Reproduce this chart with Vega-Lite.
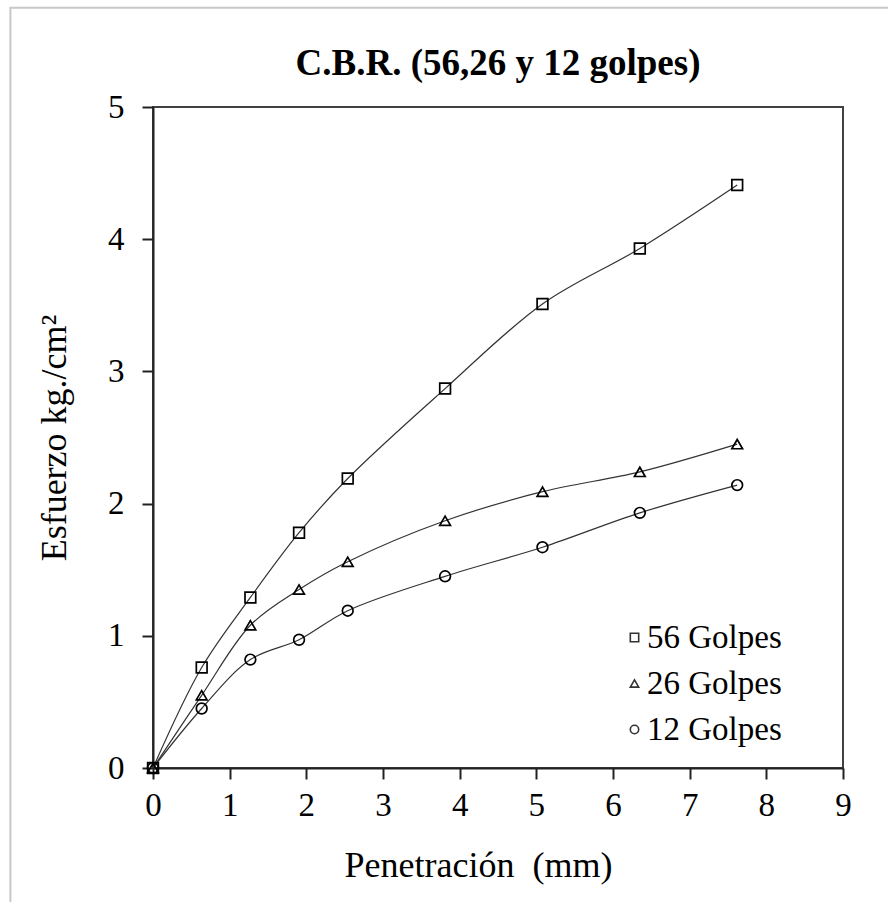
{
  "$schema": "https://vega.github.io/schema/vega-lite/v6.json",
  "width": 690,
  "height": 661,
  "autosize": "none",
  "padding": {"left": 153, "top": 107, "right": 45, "bottom": 134},
  "background": "white",
  "title": {
    "text": "C.B.R. (56,26 y 12 golpes)",
    "font": "Liberation Serif",
    "fontSize": 37,
    "fontWeight": "bold",
    "color": "black",
    "anchor": "middle",
    "frame": "group",
    "offset": -76
  },
  "config": {
    "view": {"stroke": "#404040", "strokeWidth": 2},
    "axis": {
      "labelFont": "Liberation Serif",
      "labelFontSize": 33,
      "labelColor": "black",
      "labelFlush": false,
      "titleFont": "Liberation Serif",
      "titleFontSize": 36,
      "titleFontWeight": "normal",
      "titleColor": "black",
      "domainColor": "#222222",
      "domainWidth": 2,
      "tickColor": "#222222",
      "tickWidth": 2,
      "tickSize": 11,
      "gridColor": "#d0d0d0",
      "gridWidth": 1.5
    }
  },
  "datasets": {
    "cbr": [
      {"serie": "56 Golpes", "pen": 0, "esf": 0},
      {"serie": "56 Golpes", "pen": 0.635, "esf": 0.76},
      {"serie": "56 Golpes", "pen": 1.27, "esf": 1.29},
      {"serie": "56 Golpes", "pen": 1.905, "esf": 1.78},
      {"serie": "56 Golpes", "pen": 2.54, "esf": 2.19},
      {"serie": "56 Golpes", "pen": 3.81, "esf": 2.87},
      {"serie": "56 Golpes", "pen": 5.08, "esf": 3.51},
      {"serie": "56 Golpes", "pen": 6.35, "esf": 3.93},
      {"serie": "56 Golpes", "pen": 7.62, "esf": 4.41},
      {"serie": "26 Golpes", "pen": 0, "esf": 0},
      {"serie": "26 Golpes", "pen": 0.635, "esf": 0.55},
      {"serie": "26 Golpes", "pen": 1.27, "esf": 1.08},
      {"serie": "26 Golpes", "pen": 1.905, "esf": 1.35},
      {"serie": "26 Golpes", "pen": 2.54, "esf": 1.56},
      {"serie": "26 Golpes", "pen": 3.81, "esf": 1.87},
      {"serie": "26 Golpes", "pen": 5.08, "esf": 2.09},
      {"serie": "26 Golpes", "pen": 6.35, "esf": 2.24},
      {"serie": "26 Golpes", "pen": 7.62, "esf": 2.45},
      {"serie": "12 Golpes", "pen": 0, "esf": 0},
      {"serie": "12 Golpes", "pen": 0.635, "esf": 0.45},
      {"serie": "12 Golpes", "pen": 1.27, "esf": 0.82},
      {"serie": "12 Golpes", "pen": 1.905, "esf": 0.97},
      {"serie": "12 Golpes", "pen": 2.54, "esf": 1.19},
      {"serie": "12 Golpes", "pen": 3.81, "esf": 1.45},
      {"serie": "12 Golpes", "pen": 5.08, "esf": 1.67},
      {"serie": "12 Golpes", "pen": 6.35, "esf": 1.93},
      {"serie": "12 Golpes", "pen": 7.62, "esf": 2.14}
    ],
    "marco": [{"id": "frame"}]
  },
  "layer": [
    {
      "data": {"name": "marco"},
      "mark": {"type": "rect", "fill": null, "fillOpacity": 0, "stroke": "#c8c8c8", "strokeWidth": 2, "clip": false},
      "encoding": {
        "x": {"datum": -1.86, "type": "quantitative", "scale": {"domain": [0, 9], "nice": false, "zero": false}},
        "x2": {"datum": 12},
        "y": {"datum": -3, "type": "quantitative", "scale": {"domain": [0, 5], "nice": false, "zero": false}},
        "y2": {"datum": 5.75}
      }
    },
    {
      "data": {"name": "cbr"},
      "encoding": {
        "x": {
          "field": "pen",
          "type": "quantitative",
          "scale": {"domain": [0, 9], "nice": false, "zero": false},
          "axis": {
            "values": [0, 1, 2, 3, 4, 5, 6, 7, 8, 9],
            "format": "d",
            "title": "Penetración \u00a0(mm)",
            "labelPadding": 10,
            "titlePadding": 26,
            "titleX": 325
          }
        },
        "y": {
          "field": "esf",
          "type": "quantitative",
          "scale": {"domain": [0, 5], "nice": false, "zero": false},
          "axis": {
            "values": [0, 1, 2, 3, 4, 5],
            "format": "d",
            "title": "Esfuerzo kg./cm²",
            "labelPadding": 18,
            "titlePadding": 34
          }
        }
      },
      "layer": [
        {
          "mark": {"type": "line", "interpolate": "catmull-rom", "color": "#333333", "strokeWidth": 1.2},
          "encoding": {"detail": {"field": "serie"}}
        },
        {
          "mark": {"type": "point", "filled": false, "stroke": "black", "strokeWidth": 1.7, "size": 115, "opacity": 1},
          "encoding": {
            "shape": {
              "field": "serie",
              "type": "nominal",
              "scale": {"domain": ["56 Golpes", "26 Golpes", "12 Golpes"], "range": ["square", "triangle-up", "circle"]},
              "legend": {
                "title": null,
                "orient": "none",
                "legendX": 465,
                "legendY": 514,
                "labelFont": "Liberation Serif",
                "labelFontSize": 33,
                "labelColor": "black",
                "labelOffset": -4,
                "symbolSize": 70,
                "symbolStrokeColor": "#333333",
                "symbolStrokeWidth": 1.6,
                "symbolFillColor": "transparent",
                "rowPadding": 12,
                "padding": 0
              }
            }
          }
        }
      ]
    }
  ]
}
